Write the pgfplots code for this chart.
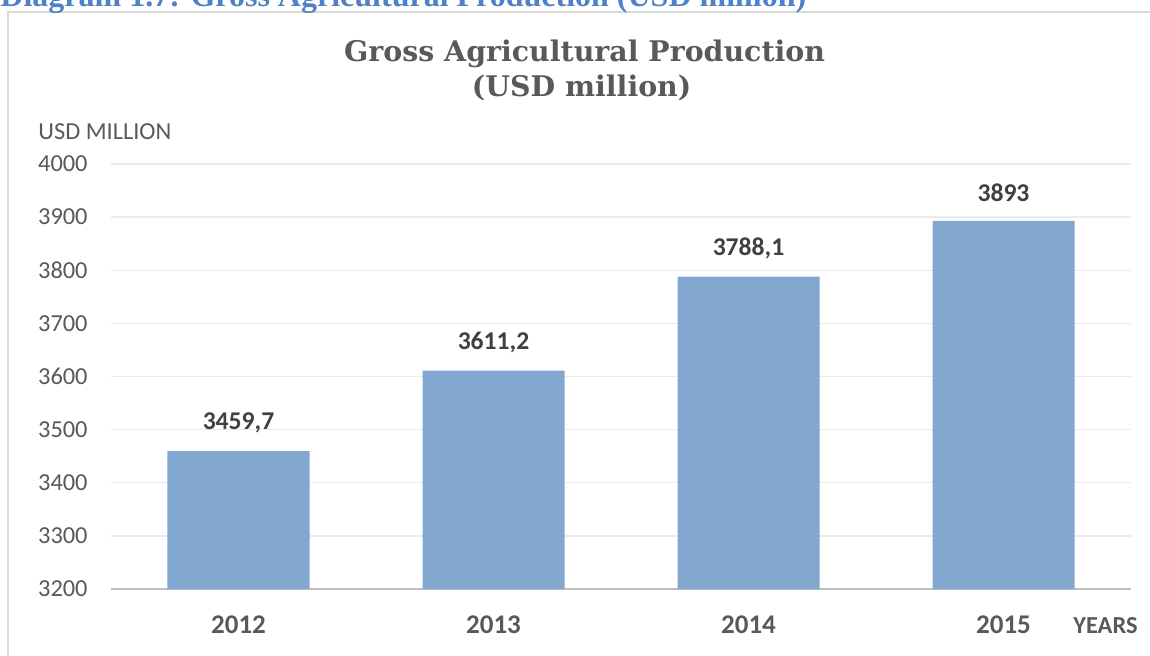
\documentclass[border=0pt]{standalone}
\usepackage{pgfplots}
\pgfplotsset{compat=1.18}
\usepackage{fontspec}
\setmainfont{Carlito}
\newfontfamily\titlefont{DejaVu Serif}
\newfontfamily\capfont{Liberation Serif}
\definecolor{barblue}{HTML}{82A7D0}
\definecolor{capblue}{HTML}{4F81C9}
\definecolor{framegray}{HTML}{D9D9D9}
\definecolor{gridgray}{HTML}{EBEBEB}
\definecolor{axisgray}{HTML}{BFBFBF}
\definecolor{ticktext}{HTML}{595959}
\definecolor{valtext}{HTML}{404040}
\begin{document}
\begin{tikzpicture}[x=1pt,y=1pt]
\draw[color=framegray, line width=1.2pt] (4,-340) -- (4,-6) -- (580,-6);
\node[anchor=base west, text=capblue, font=\capfont\bfseries\fontsize{16}{19}\selectfont, inner sep=0] at (0,-3.3) {Diagram 1.7: Gross Agricultural Production (USD million)};
\node[anchor=base, text=ticktext, font=\titlefont\bfseries\fontsize{14.2}{17}\selectfont, inner sep=0] at (292.3,-30.85) {Gross Agricultural Production};
\node[anchor=base, text=ticktext, font=\titlefont\bfseries\fontsize{14.2}{17}\selectfont, inner sep=0] at (290.8,-48.35) {(USD million)};
\node[anchor=base west, text=ticktext, font=\fontsize{12.2}{14}\selectfont, inner sep=0] at (19,-69.5) {USD MILLION};
\node[anchor=base west, text=ticktext, font=\bfseries\fontsize{12.2}{14}\selectfont, inner sep=0] at (536.5,-316.5) {YEARS};
\begin{axis}[
  at={(55.5pt,-294.5pt)}, anchor=south west,
  scale only axis, width=510pt, height=212.5pt,
  xmin=-0.5, xmax=3.5, ymin=3200, ymax=4000,
  ytick={3200,3300,...,4000},
  xtick={0,1,2,3}, xticklabels={2012,2013,2014,2015},
  axis x line*=bottom, axis y line*=left,
  x axis line style={-, color=axisgray, line width=1pt},
  y axis line style={draw=none},
  major tick length=0pt,
  ymajorgrids, grid style={color=gridgray, line width=0.7pt},
  yticklabel style={anchor=east, inner sep=0pt, xshift=-11.5pt, text=ticktext, font=\fontsize{12.2}{14}\selectfont},
  xticklabel style={anchor=base, inner sep=0pt, yshift=-22pt, text=ticktext, font=\bfseries\fontsize{13.5}{16}\selectfont},
  /pgf/number format/assume math mode=true,
  /pgf/number format/1000 sep={},
  ybar, bar width=71pt,
  nodes near coords, point meta=explicit symbolic,
  every node near coord/.append style={anchor=center, yshift=14pt, inner sep=0pt, text=valtext, font=\bfseries\fontsize{12.8}{15}\selectfont},
  clip=false,
]
\addplot[fill=barblue, draw=none] table[meta=lab] {
x y lab
0 3459.7 3459,7
1 3611.2 3611,2
2 3788.1 3788,1
3 3893 3893
};
\end{axis}
\pgfresetboundingbox
\useasboundingbox (0,0) rectangle (575,-327.5);
\end{tikzpicture}
\end{document}
